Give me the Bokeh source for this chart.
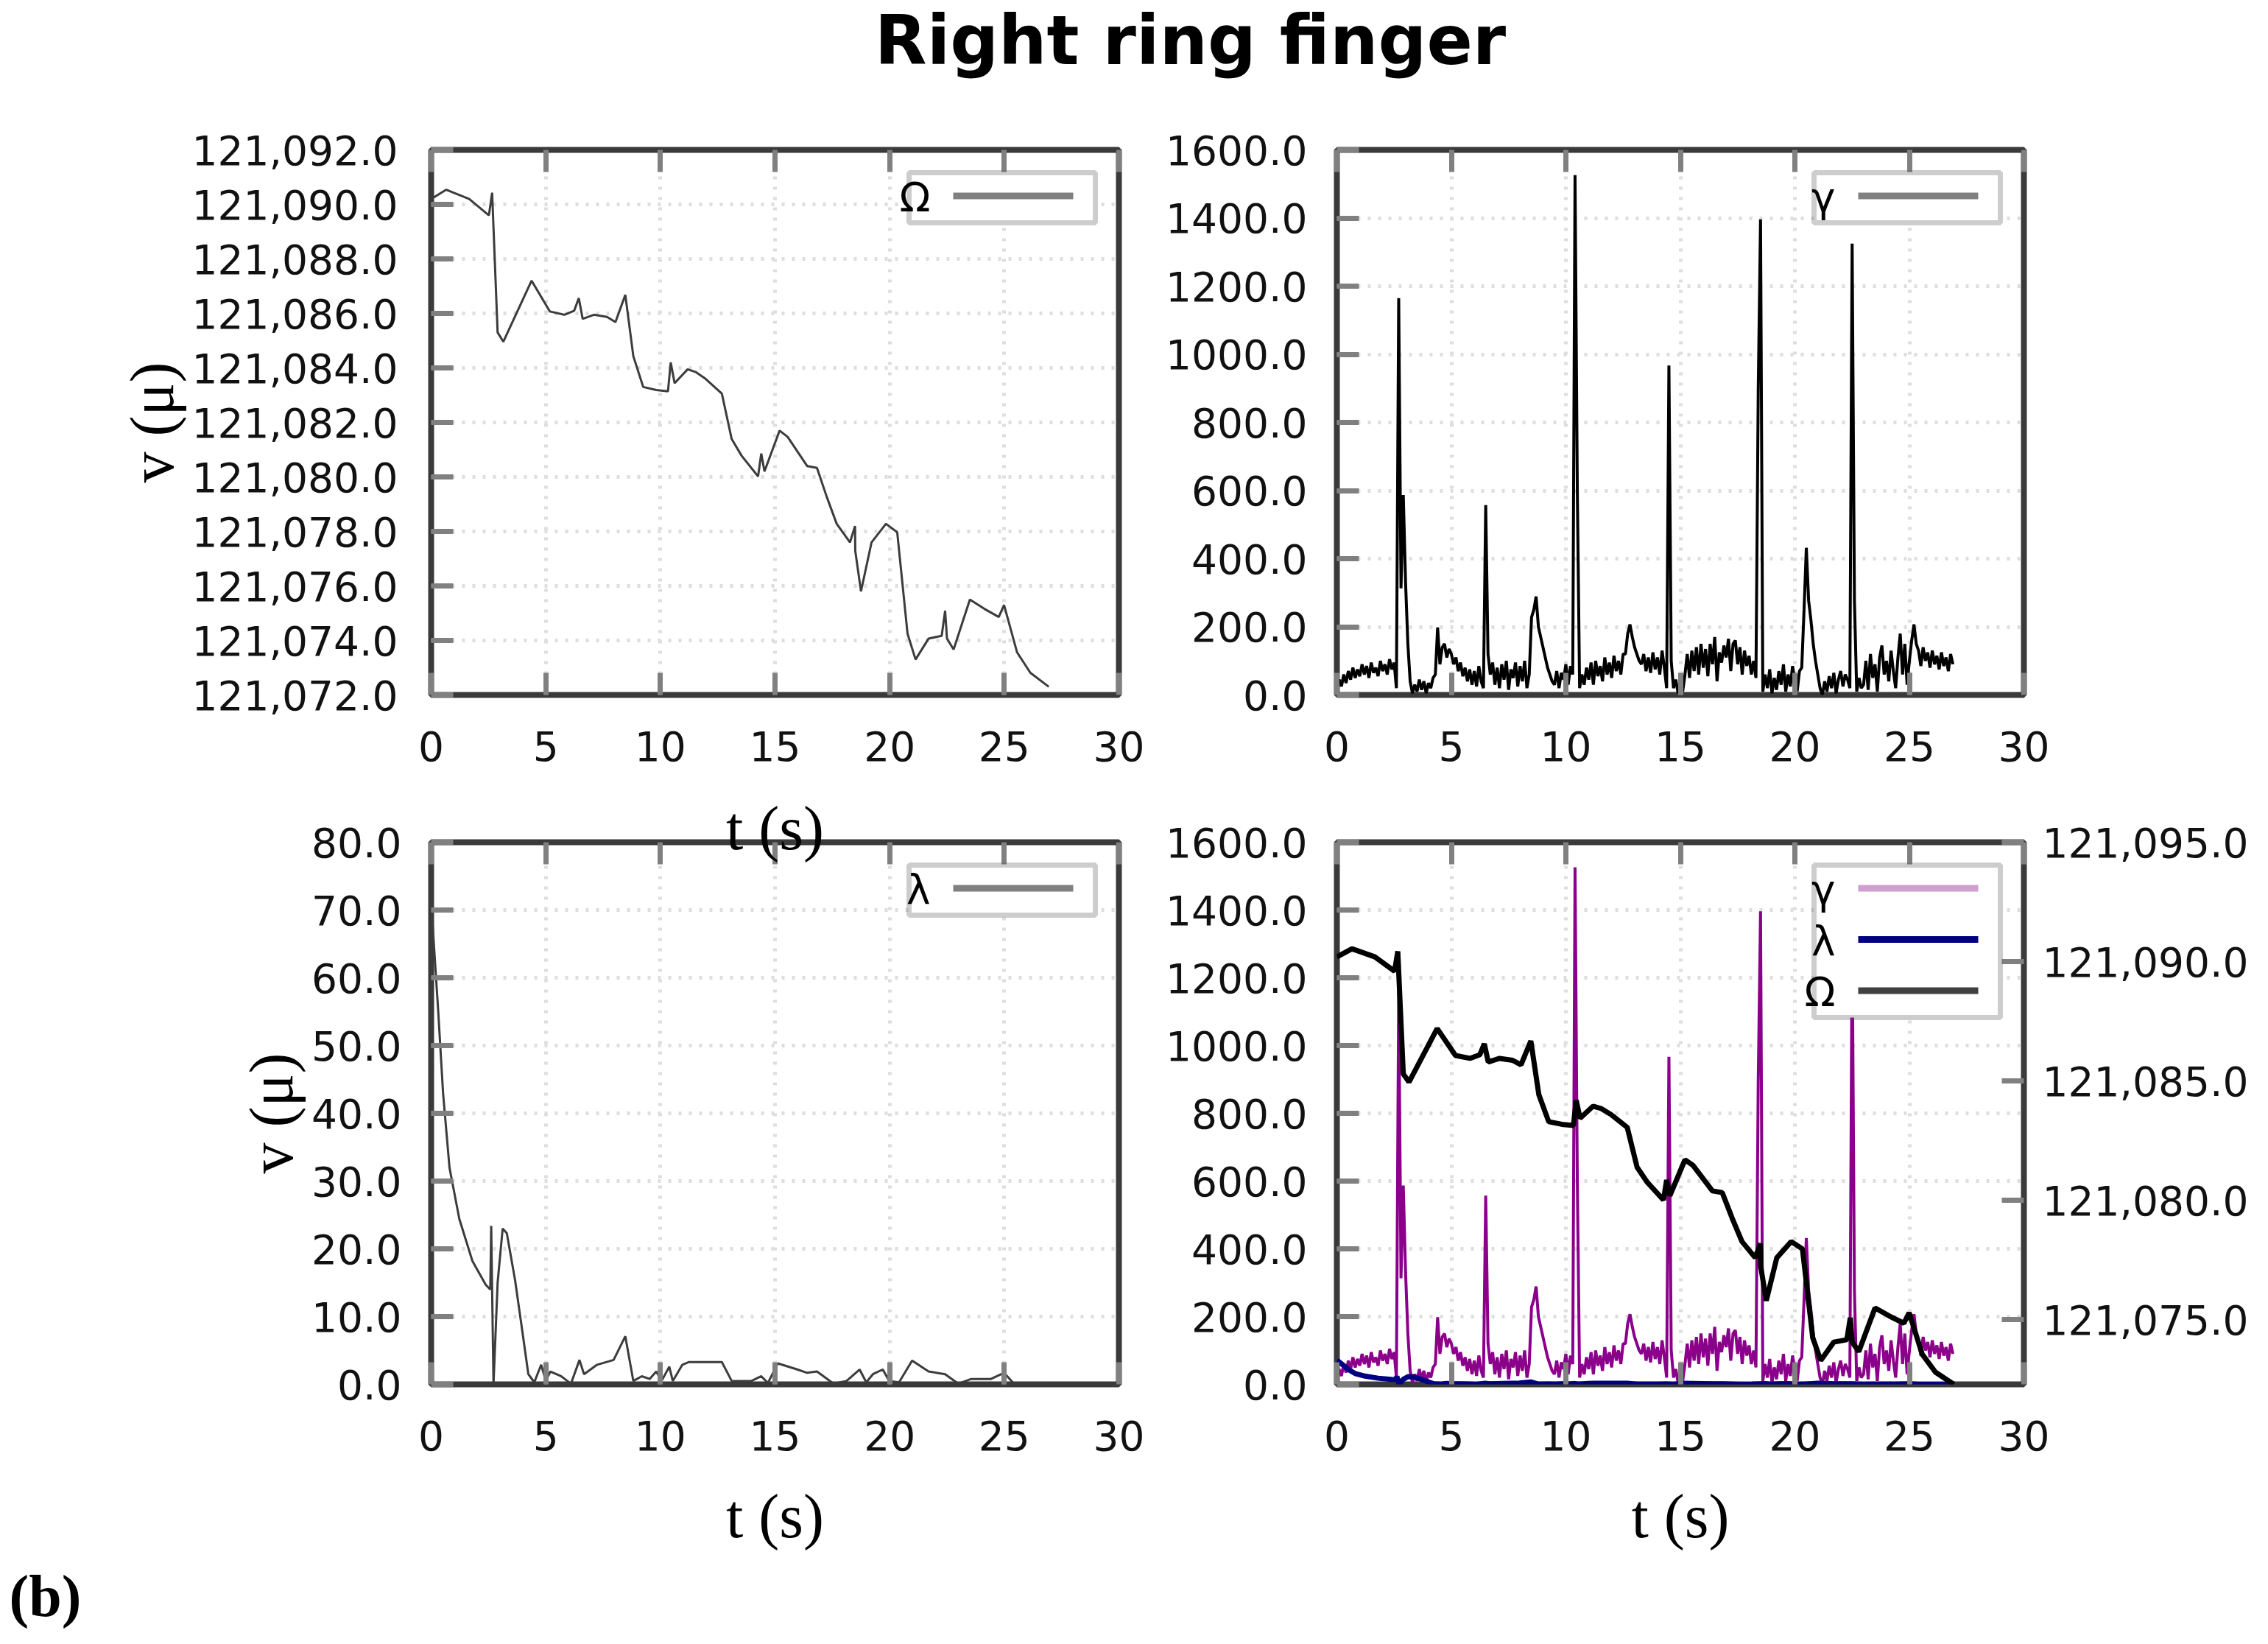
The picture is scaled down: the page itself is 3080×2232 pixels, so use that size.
from bokeh.plotting import figure
from bokeh.models import (Range1d, LinearAxis, FixedTicker, NumeralTickFormatter,
                          Label, BoxAnnotation, Arrow, CustomJSTickFormatter)
from bokeh.layouts import column, row
from bokeh.embed import file_html
from bokeh.resources import INLINE

# ---------------- data ----------------
TITLE = "Right ring finger"
PANEL_TAG = "(b)"
X_LABEL = "t (s)"
Y_LABEL = "v (μ)"

X_TICKS = [0, 5, 10, 15, 20, 25, 30]
OMEGA_TICKS = [121072, 121074, 121076, 121078, 121080, 121082, 121084, 121086, 121088, 121090, 121092]
GAMMA_TICKS = [0, 200, 400, 600, 800, 1000, 1200, 1400, 1600]
LAMBDA_TICKS = [0, 10, 20, 30, 40, 50, 60, 70, 80]
OMEGA_RIGHT_TICKS = [121075, 121080, 121085, 121090, 121095]

OMEGA_T = [0.0, 0.66, 1.66, 2.52, 2.66, 2.9, 3.15, 4.38, 5.18, 5.81, 6.24, 6.44, 6.61, 7.1, 7.67,
           8.04, 8.47, 8.82, 9.25, 9.82, 10.33, 10.45, 10.62, 11.19, 11.54, 11.97, 12.68, 13.11,
           13.54, 14.26, 14.4, 14.54, 15.2, 15.55, 16.4, 16.83, 17.26, 17.69, 18.27, 18.49, 18.5,
           18.75, 19.21, 19.84, 20.33, 20.78, 21.13, 21.7, 22.27, 22.42, 22.5, 22.79, 23.5, 24.13,
           24.76, 24.99, 25.56, 26.14, 26.94]
OMEGA_V = [121090.2, 121090.54, 121090.2, 121089.6, 121090.43, 121085.3, 121084.96, 121087.2,
           121086.07, 121085.95, 121086.1, 121086.56, 121085.8, 121085.95, 121085.87, 121085.68,
           121086.68, 121084.43, 121083.3, 121083.19, 121083.14, 121084.2, 121083.44, 121083.95,
           121083.85, 121083.6, 121083.06, 121081.39, 121080.78, 121080.02, 121080.86, 121080.2,
           121081.7, 121081.47, 121080.4, 121080.33, 121079.26, 121078.28, 121077.6, 121078.2,
           121077.29, 121075.8, 121077.6, 121078.28, 121077.97, 121074.25, 121073.3, 121074.07,
           121074.17, 121075.09, 121074.07, 121073.67, 121075.5, 121075.16, 121074.86, 121075.3,
           121073.56, 121072.81, 121072.3]

LAMBDA_T = [0.0, 0.1, 0.31, 0.52, 0.8, 1.23, 1.8, 2.38, 2.58, 2.62, 2.72, 2.9, 3.12, 3.3, 3.66,
            3.95, 4.24, 4.5, 4.8, 5.0, 5.2, 5.67, 6.1, 6.47, 6.67, 7.24, 7.96, 8.47, 8.82, 9.19,
            9.53, 9.82, 10.05, 10.39, 10.54, 10.96, 11.25, 12.68, 13.11, 13.97, 14.4, 14.69, 15.12,
            15.97, 16.4, 16.83, 17.55, 18.12, 18.69, 18.98, 19.27, 19.7, 19.98, 20.41, 20.98, 21.7,
            22.42, 22.99, 23.56, 24.42, 24.99, 25.42, 26.9]
LAMBDA_V = [71.0, 66.0, 55.0, 43.0, 32.0, 24.4, 18.2, 14.7, 14.0, 23.4, 0.0, 15.0, 23.0, 22.3, 15.4,
            8.5, 1.5, 0.3, 2.9, 0.5, 1.9, 1.2, 0.1, 3.6, 1.5, 2.9, 3.6, 7.1, 0.5, 1.2,
            0.8, 1.9, 0.5, 2.6, 0.5, 2.9, 3.3, 3.3, 0.5, 0.5, 1.2, 0.2, 3.1,
            2.2, 1.7, 1.9, 0.1, 0.5, 2.2, 0.3, 1.5, 2.2, 0.5, 0.3, 3.5, 1.9,
            1.5, 0.1, 0.8, 0.8, 1.7, 0.1, 0.0]

# gamma sampled every 0.1 s from t = 0
GAMMA_V = [10, 45, 25, 60, 35, 70, 45, 80, 50, 75,
           55, 90, 60, 85, 50, 95, 65, 80, 55, 100,
           70, 90, 60, 105, 75, 95, 20, 1165, 313, 587,
           330, 150, 40, 5, 30, 10, 45, 15, 40, 5,
           35, 20, 50, 60, 198, 90, 140, 150, 110, 135,
           120, 90, 110, 70, 95, 55, 80, 40, 75, 30,
           70, 25, 85, 40, 20, 557, 120, 60, 95, 30,
           80, 20, 90, 45, 100, 15, 75, 50, 95, 25,
           85, 40, 100, 20, 60, 228, 250, 289, 200, 170,
           140, 110, 80, 60, 40, 30, 70, 20, 65, 45,
           90, 30, 85, 60, 1526, 600, 20, 60, 30, 80,
           45, 95, 30, 100, 55, 85, 40, 110, 60, 95,
           50, 115, 70, 100, 60, 120, 120, 180, 207, 170,
           140, 120, 100, 90, 120, 70, 110, 65, 125, 75,
           110, 60, 130, 80, 20, 967, 100, 20, 45, 5,
           35, 10, 60, 120, 50, 130, 70, 140, 60, 150,
           80, 135, 55, 150, 90, 170, 40, 125, 95, 145,
           110, 165, 70, 150, 160, 90, 140, 60, 130, 85,
           115, 60, 100, 50, 897, 1396, 10, 60, 20, 75,
           5, 50, 15, 70, 30, 90, 10, 60, 25, 85,
           40, 10, 70, 80, 250, 432, 277, 220, 150, 100,
           60, 20, 0, 40, 10, 55, 20, 65, 5, 45,
           70, 25, 60, 45, 20, 1325, 277, 10, 50, 20,
           30, 100, 15, 120, 50, 90, 10, 110, 145, 60,
           100, 40, 130, 70, 20, 110, 180, 60, 150, 30,
           100, 160, 207, 150, 130, 85, 140, 100, 125, 80,
           130, 90, 115, 75, 125, 85, 110, 70, 120, 90]
GAMMA_DT = 0.1
GAMMA_T = [round(i * GAMMA_DT, 1) for i in range(len(GAMMA_V))]

# ---------------- style ----------------
FRAME = "#3a3a3a"
TICK = "#808080"
GRID = "#dedede"
SANS = "DejaVu Sans"
SERIF = "Liberation Serif"
TICK_FS = "55px"
LAB_FS = "84px"


def style_axis(ax, standoff):
    ax.axis_line_color = None
    ax.major_tick_in = 30
    ax.major_tick_out = 0
    ax.major_tick_line_color = TICK
    ax.major_tick_line_width = 7
    ax.minor_tick_line_color = None
    ax.major_label_text_font = SANS
    ax.major_label_text_font_size = TICK_FS
    ax.major_label_text_color = "#111111"
    ax.major_label_standoff = standoff
    ax.axis_label_text_font = SERIF
    ax.axis_label_text_font_size = LAB_FS
    ax.axis_label_text_font_style = "normal"
    ax.axis_label_text_color = "black"


def make_panel(width, height, bl, br, bt, bb, yr, yticks, yfmt, ystand):
    p = figure(width=width, height=height, x_range=Range1d(0, 30), y_range=Range1d(*yr),
               output_backend="svg", toolbar_location=None,
               min_border_left=bl, min_border_right=br, min_border_top=bt, min_border_bottom=bb)
    p.outline_line_color = FRAME
    p.outline_line_width = 8
    p.xaxis.ticker = FixedTicker(ticks=X_TICKS)
    p.yaxis.ticker = FixedTicker(ticks=yticks)
    p.yaxis.formatter = NumeralTickFormatter(format=yfmt)
    for ax in p.xaxis:
        style_axis(ax, 49)
    for ax in p.yaxis:
        style_axis(ax, ystand)
    # mirrored ticks on the top edge, without labels
    top = LinearAxis(ticker=FixedTicker(ticks=X_TICKS),
                     formatter=CustomJSTickFormatter(code="return ''"))
    style_axis(top, 0)
    top.major_label_text_font_size = "1px"
    top.major_label_text_alpha = 0
    p.add_layout(top, "above")
    p.xgrid.ticker = FixedTicker(ticks=X_TICKS)
    p.ygrid.ticker = FixedTicker(ticks=yticks)
    for g in p.xgrid + p.ygrid:
        g.grid_line_color = GRID
        g.grid_line_width = 5
        g.grid_line_dash = "4 10"
    return p


def add_key(p, frame_w, frame_h, entries):
    n = len(entries)
    right = frame_w - 32
    left = right - 253
    top = frame_h - 31
    bottom = top - (68 + (n - 1) * 69.5)
    p.add_layout(BoxAnnotation(left=left, right=right, top=top, bottom=bottom,
                               left_units="screen", right_units="screen",
                               top_units="screen", bottom_units="screen",
                               fill_color="white", fill_alpha=1.0,
                               line_color="#5a5a5a", line_width=7, level="overlay"))
    for i, (txt, color) in enumerate(entries):
        yc = top - 31.5 - i * 69.5
        p.add_layout(Arrow(end=None, x_start=left + 60, x_end=left + 223, y_start=yc, y_end=yc,
                           start_units="screen", end_units="screen",
                           line_color=color, line_width=9, level="overlay"))
        p.add_layout(Label(x=left + 29, y=yc - 2, x_units="screen", y_units="screen", text=txt,
                           text_align="right", text_baseline="middle", text_font=SANS,
                           text_font_size=TICK_FS, text_color="black", level="overlay"))


# ---------------- layout numbers ----------------
W_L, W_R = 1560, 1520
H_HDR, H_R1, H_R2, H_FTR = 160, 905, 1049, 116

# header
hdr = figure(width=W_L + W_R, height=H_HDR, x_range=Range1d(0, 1), y_range=Range1d(0, 1),
             x_axis_type=None, y_axis_type=None, toolbar_location=None,
             output_backend="svg", min_border=0)
hdr.outline_line_color = None
hdr.add_layout(Label(x=1616, y=105, x_units="screen", y_units="screen", text=TITLE,
                     text_align="center", text_baseline="middle", text_font=SANS,
                     text_font_style="bold", text_font_size="92px", text_color="black"))

# top-left: Omega
p1 = make_panel(W_L, H_R1, 585, 41, 43, 122, (121072, 121092), OMEGA_TICKS, "0,0.0", 45)
p1.left[0].axis_label = Y_LABEL
p1.left[0].axis_label_standoff = 5
p1.line(OMEGA_T, OMEGA_V, line_color="#3c3c3c", line_width=3)
add_key(p1, 934, 740, [("Ω", "#808080")])

# top-right: gamma
p2 = make_panel(W_R, H_R1, 255, 332, 43, 122, (0, 1600), GAMMA_TICKS, "0.0", 40)
p2.line(GAMMA_T, GAMMA_V, line_color="black", line_width=4)
add_key(p2, 933, 740, [("γ", "#808080")])

# bottom-left: lambda
p3 = make_panel(W_L, H_R2, 585, 41, 78, 235, (0, 80), LAMBDA_TICKS, "0.0", 40)
p3.left[0].axis_label = Y_LABEL
p3.left[0].axis_label_standoff = 5
p3.below[0].axis_label = X_LABEL
p3.below[0].axis_label_standoff = 40
p3.line(LAMBDA_T, LAMBDA_V, line_color="#3c3c3c", line_width=3)
add_key(p3, 934, 736, [("λ", "#808080")])
# x-axis title of the upper-left panel: in the source it sits across this panel's top edge
p3.title.text = X_LABEL
p3.title.align = "center"
p3.title.vertical_align = "bottom"
p3.title.text_font = SERIF
p3.title.text_font_size = LAB_FS
p3.title.text_font_style = "normal"
p3.title.text_color = "black"
try:
    p3.title.standoff = -54
except Exception:
    p3.title.standoff = 0

# bottom-right: combined
p4 = make_panel(W_R, H_R2, 255, 332, 78, 235, (0, 1600), GAMMA_TICKS, "0.0", 40)
p4.below[0].axis_label = X_LABEL
p4.below[0].axis_label_standoff = 40
p4.extra_y_ranges = {"omega": Range1d(121072.3, 121095.0)}
ax2 = LinearAxis(y_range_name="omega", ticker=FixedTicker(ticks=OMEGA_RIGHT_TICKS),
                 formatter=NumeralTickFormatter(format="0,0.0"))
style_axis(ax2, 25)
p4.add_layout(ax2, "right")
p4.line(GAMMA_T, GAMMA_V, line_color="#8b008b", line_width=4)
p4.line(LAMBDA_T, LAMBDA_V, line_color="#000080", line_width=7)
p4.line(OMEGA_T, OMEGA_V, y_range_name="omega", line_color="black", line_width=7)
add_key(p4, 933, 736, [("γ", "#cf9fcf"), ("λ", "#000080"), ("Ω", "#404040")])

# footer
ftr = figure(width=W_L + W_R, height=H_FTR, x_range=Range1d(0, 1), y_range=Range1d(0, 1),
             x_axis_type=None, y_axis_type=None, toolbar_location=None,
             output_backend="svg", min_border=0)
ftr.outline_line_color = None
ftr.add_layout(Label(x=12, y=64, x_units="screen", y_units="screen", text=PANEL_TAG,
                     text_align="left", text_baseline="middle", text_font=SERIF,
                     text_font_style="bold", text_font_size="80px", text_color="black"))

layout = column(hdr, row(p1, p2), row(p3, p4), ftr)
open("out.html", "w").write(file_html(layout, INLINE))
